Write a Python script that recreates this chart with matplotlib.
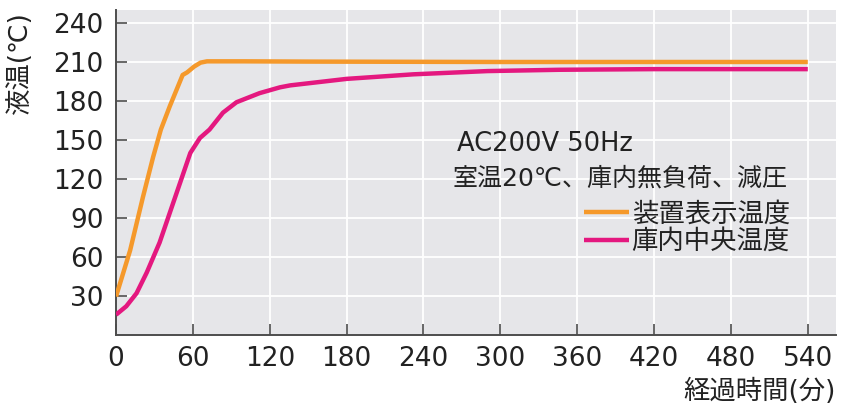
import numpy as np
import matplotlib
matplotlib.use('Agg')
import matplotlib.pyplot as plt

plt.rcParams['font.family'] = ['DejaVu Sans', 'Noto Sans CJK JP']

# 経過時間(分) vs 液温(℃)
device_time = [0, 11, 21, 29, 35, 42, 52, 55.5, 61, 66, 71, 100, 150, 200, 300, 400, 540]
device_temp = [29.5, 65, 106, 137, 158, 176, 200, 202, 206.5, 209.5, 210.5, 210.5, 210.3, 210.2, 210, 210, 210]

center_time = [0, 8, 16, 24, 34, 42, 50, 58, 65.5, 73, 83.5, 94, 112, 128, 136, 180, 232, 290, 346, 420, 540]
center_temp = [15.5, 22, 32, 48, 71, 94, 117, 140, 151.5, 158, 171, 179, 186, 190.5, 192, 197, 200.5, 203, 204, 204.5, 204.5]

series_labels = ['装置表示温度', '庫内中央温度']
series_colors = ['#f5992b', '#e4187f']

x_ticks = list(range(0, 541, 60))
y_ticks = list(range(30, 241, 30))

fig = plt.figure(figsize=(8.5, 4.17), dpi=100)
ax = fig.add_axes([0.1365, 0.197, 0.847, 0.779])
ax.set_facecolor('#e6e6e9')

ax.plot(device_time, device_temp, color=series_colors[0], lw=3.2,
        label=series_labels[0], solid_capstyle='butt', zorder=3)
ax.plot(center_time, center_temp, color=series_colors[1], lw=3.2,
        label=series_labels[1], solid_capstyle='butt', zorder=3)

ax.set_xlim(0, 562)
ax.set_ylim(0, 250)
ax.set_xticks(x_ticks)
ax.set_yticks(y_ticks)
ax.grid(True, color='white', lw=1.3)
ax.set_axisbelow(True)

for s in ['top', 'right']:
    ax.spines[s].set_visible(False)
for s in ['left', 'bottom']:
    ax.spines[s].set_color('#4d4d4d')
    ax.spines[s].set_linewidth(1.4)

ax.tick_params(axis='both', direction='in', length=8, width=1.2,
               color='#4d4d4d', labelsize=19, labelcolor='#222222')
ax.tick_params(axis='x', pad=8)
ax.tick_params(axis='y', pad=9)

ax.set_ylabel('液温(℃)', fontsize=19, color='#222222', va='center')
ax.yaxis.set_label_coords(-0.133, 0.837)
ax.set_xlabel('経過時間(分)', fontsize=19, color='#222222', ha='right', va='center')
ax.xaxis.set_label_coords(1.0, -0.175)

ax.text(0.473, 0.565, 'AC200V 50Hz', transform=ax.transAxes,
        fontsize=18.5, color='#222222', va='baseline')
ax.text(0.468, 0.46, '室温20℃、庫内無負荷、減圧', transform=ax.transAxes,
        fontsize=18, color='#222222', va='baseline')

ax.legend(loc='upper right', bbox_to_anchor=(0.936, 0.41), frameon=False,
          fontsize=19, handlelength=1.7, handletextpad=0.1,
          labelspacing=0.05, borderpad=0, borderaxespad=0,
          labelcolor='#222222')

fig.savefig('out.png', dpi=100)
